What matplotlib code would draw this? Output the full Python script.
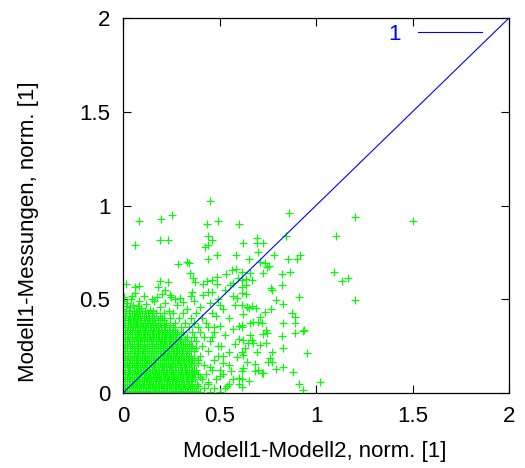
import numpy as np
import matplotlib
matplotlib.use("Agg")
import matplotlib.pyplot as plt

plt.rcParams['font.family'] = ['Liberation Sans', 'DejaVu Sans']

# ---- data ----
# dense core: one row per y value, x positions of the crosses in that row
core_y = [0.005, 0.025, 0.05, 0.075, 0.10, 0.125, 0.15, 0.175, 0.20, 0.225,
          0.25, 0.275, 0.30, 0.325, 0.35, 0.375, 0.40, 0.425]
core_x = [
    [0.0, 0.02, 0.04, 0.06, 0.085, 0.105, 0.13, 0.15, 0.17, 0.195, 0.215, 0.24, 0.26, 0.285, 0.31, 0.33, 0.36, 0.40, 0.45, 0.50],
    [0.01, 0.03, 0.05, 0.075, 0.095, 0.12, 0.14, 0.165, 0.185, 0.205, 0.23, 0.25, 0.275, 0.30, 0.32, 0.345, 0.37, 0.42, 0.47, 0.53],
    [0.0, 0.02, 0.045, 0.065, 0.09, 0.11, 0.135, 0.155, 0.18, 0.20, 0.225, 0.245, 0.27, 0.29, 0.315, 0.34, 0.36, 0.385, 0.44, 0.55, 0.60],
    [0.01, 0.035, 0.055, 0.08, 0.10, 0.125, 0.145, 0.17, 0.19, 0.215, 0.235, 0.26, 0.28, 0.305, 0.33, 0.35, 0.375, 0.41, 0.48, 0.57],
    [0.0, 0.025, 0.045, 0.07, 0.09, 0.115, 0.135, 0.16, 0.18, 0.205, 0.225, 0.25, 0.27, 0.295, 0.32, 0.34, 0.365, 0.39, 0.43, 0.52],
    [0.01, 0.035, 0.06, 0.08, 0.105, 0.125, 0.15, 0.17, 0.195, 0.215, 0.24, 0.26, 0.285, 0.305, 0.33, 0.355, 0.38, 0.46, 0.50],
    [0.0, 0.02, 0.045, 0.065, 0.09, 0.11, 0.135, 0.155, 0.18, 0.20, 0.225, 0.245, 0.27, 0.295, 0.315, 0.34, 0.37, 0.42, 0.55],
    [0.01, 0.035, 0.055, 0.08, 0.10, 0.125, 0.145, 0.17, 0.19, 0.215, 0.235, 0.26, 0.285, 0.31, 0.335, 0.36, 0.39, 0.47],
    [0.0, 0.025, 0.045, 0.07, 0.09, 0.115, 0.135, 0.16, 0.18, 0.205, 0.23, 0.25, 0.275, 0.30, 0.325, 0.35, 0.40, 0.52],
    [0.01, 0.035, 0.06, 0.08, 0.105, 0.125, 0.15, 0.17, 0.195, 0.22, 0.24, 0.265, 0.29, 0.31, 0.34, 0.37, 0.44],
    [0.0, 0.02, 0.045, 0.07, 0.09, 0.11, 0.135, 0.16, 0.18, 0.205, 0.23, 0.255, 0.28, 0.30, 0.33, 0.36, 0.41, 0.49],
    [0.01, 0.03, 0.055, 0.08, 0.10, 0.125, 0.145, 0.17, 0.195, 0.22, 0.245, 0.27, 0.295, 0.32, 0.35, 0.38, 0.45],
    [0.0, 0.025, 0.045, 0.07, 0.095, 0.115, 0.14, 0.16, 0.185, 0.21, 0.24, 0.26, 0.29, 0.33, 0.37, 0.42],
    [0.01, 0.035, 0.06, 0.085, 0.11, 0.13, 0.155, 0.18, 0.20, 0.23, 0.255, 0.28, 0.31, 0.36, 0.40, 0.47],
    [0.0, 0.025, 0.05, 0.075, 0.10, 0.12, 0.145, 0.17, 0.195, 0.22, 0.26, 0.30, 0.34, 0.39, 0.44],
    [0.01, 0.04, 0.065, 0.09, 0.115, 0.14, 0.165, 0.19, 0.225, 0.27, 0.32, 0.37, 0.43],
    [0.0, 0.03, 0.055, 0.08, 0.11, 0.135, 0.16, 0.20, 0.245, 0.29, 0.35, 0.41],
    [0.015, 0.045, 0.075, 0.10, 0.13, 0.17, 0.215, 0.26, 0.31, 0.38, 0.46],
]

# in-between rows of the dense core
core2_y = [0.0125, 0.0375, 0.0625, 0.0875, 0.1125, 0.1375, 0.1625, 0.1875, 0.2125, 0.2375,
           0.2625, 0.2875, 0.3125, 0.3375, 0.3625, 0.3875, 0.4125, 0.4375]
core2_x = [
    [0.01, 0.03, 0.05, 0.07, 0.095, 0.115, 0.14, 0.16, 0.18, 0.205, 0.225, 0.25, 0.27, 0.295, 0.32, 0.345, 0.38],
    [0.0, 0.02, 0.04, 0.06, 0.085, 0.105, 0.13, 0.15, 0.17, 0.195, 0.215, 0.24, 0.26, 0.285, 0.31, 0.335, 0.36, 0.39],
    [0.01, 0.03, 0.055, 0.075, 0.10, 0.12, 0.14, 0.165, 0.185, 0.21, 0.23, 0.255, 0.275, 0.30, 0.325, 0.35],
    [0.0, 0.02, 0.045, 0.065, 0.085, 0.11, 0.13, 0.155, 0.175, 0.195, 0.22, 0.24, 0.265, 0.285, 0.31, 0.335, 0.36, 0.40],
    [0.01, 0.03, 0.055, 0.075, 0.095, 0.12, 0.14, 0.165, 0.185, 0.21, 0.23, 0.255, 0.275, 0.30, 0.325, 0.35, 0.37],
    [0.0, 0.025, 0.045, 0.07, 0.09, 0.115, 0.135, 0.16, 0.18, 0.205, 0.225, 0.25, 0.27, 0.295, 0.32, 0.34],
    [0.01, 0.03, 0.055, 0.075, 0.10, 0.12, 0.145, 0.165, 0.19, 0.21, 0.235, 0.255, 0.28, 0.30, 0.325, 0.35, 0.39],
    [0.0, 0.02, 0.045, 0.065, 0.09, 0.11, 0.135, 0.155, 0.18, 0.20, 0.225, 0.245, 0.27, 0.29, 0.315, 0.34, 0.37],
    [0.01, 0.035, 0.055, 0.08, 0.10, 0.125, 0.145, 0.17, 0.19, 0.215, 0.235, 0.26, 0.28, 0.305, 0.33],
    [0.0, 0.02, 0.045, 0.07, 0.09, 0.115, 0.135, 0.16, 0.18, 0.205, 0.23, 0.25, 0.275, 0.30, 0.32, 0.35, 0.38],
    [0.01, 0.035, 0.055, 0.08, 0.10, 0.125, 0.15, 0.17, 0.19, 0.215, 0.24, 0.26, 0.285, 0.31, 0.34],
    [0.0, 0.02, 0.045, 0.065, 0.09, 0.11, 0.135, 0.155, 0.18, 0.20, 0.225, 0.25, 0.275, 0.30, 0.32],
    [0.01, 0.035, 0.06, 0.08, 0.105, 0.125, 0.15, 0.17, 0.195, 0.22, 0.245, 0.27, 0.30],
    [0.0, 0.02, 0.045, 0.07, 0.09, 0.115, 0.14, 0.16, 0.185, 0.21, 0.24, 0.27],
    [0.01, 0.035, 0.06, 0.08, 0.105, 0.13, 0.155, 0.18, 0.21, 0.245],
    [0.0, 0.025, 0.05, 0.07, 0.095, 0.125, 0.15, 0.18, 0.21],
    [0.01, 0.035, 0.06, 0.09, 0.12, 0.15, 0.19],
    [0.0, 0.03, 0.055, 0.085, 0.115, 0.155],
]

# scattered crosses outside the dense core
scatter_x = [0.451, 0.084, 0.195, 0.252, 0.862, 1.204, 0.434, 0.492, 0.603, 0.062,
             0.192, 0.235, 0.442, 0.460, 0.425, 0.439, 0.623, 0.693, 0.693, 0.727,
             1.104, 0.701, 0.442, 0.485, 0.584, 0.654, 0.784, 0.853, 0.903, 0.917,
             0.330, 0.283, 0.342, 0.736, 0.745, 1.093, 1.133, 1.164, 1.204, 0.865,
             0.822, 0.724, 0.667, 0.585, 0.534, 0.485, 0.460, 0.361, 0.347, 0.192,
             0.235, 0.765, 0.824, 0.913, 0.793, 0.831, 0.874, 0.891, 0.667, 0.831,
             0.891, 0.938, 0.822, 0.831, 0.955, 0.762, 0.770, 0.793, 0.831, 0.879,
             0.913, 1.021, 0.934, 0.719, 1.503, 0.845, 0.615, 0.637, 0.770, 0.654,
             0.641, 0.689, 0.736, 0.765, 0.710, 0.701, 0.719, 0.658, 0.672, 0.615,
             0.615, 0.891, 0.934, 0.741, 0.748, 0.727, 0.658, 0.667, 0.675, 0.649,
             0.710, 0.741, 0.623, 0.774, 0.615, 0.623, 0.693, 0.753, 0.684, 0.641,
             0.684, 0.701, 0.724, 0.623, 0.615, 0.615, 0.654, 0.615, 0.710, 0.756,
             0.615, 0.658, 0.637, 0.615, 0.637, 0.016, 0.062, 0.083, 0.218, 0.180,
             0.045, 0.175, 0.244, 0.356, 0.416, 0.434, 0.485, 0.460, 0.416, 0.563,
             0.554, 0.597, 0.572, 0.615, 0.295, 0.503, 0.589, 0.615, 0.373, 0.442,
             0.52, 0.55, 0.58, 0.50, 0.53, 0.57, 0.60, 0.51, 0.55, 0.59,
             0.52, 0.56, 0.60, 0.50, 0.54, 0.58, 0.48, 0.62, 0.46, 0.49,
             0.45, 0.44, 0.57, 0.53, 0.49, 0.45, 0.60, 0.63, 0.47,
             0.0, 0.035, 0.065, 0.095, 0.14, 0.19, 0.24, 0.28, 0.33, 0.40,
             0.02, 0.05, 0.085, 0.12, 0.16, 0.22, 0.27, 0.31, 0.37,
             0.005, 0.04, 0.11, 0.15, 0.20, 0.25, 0.35,
             0.015, 0.08, 0.0, 0.06]
scatter_y = [1.026, 0.916, 0.926, 0.949, 0.958, 0.937, 0.900, 0.916, 0.900, 0.788,
             0.816, 0.816, 0.837, 0.816, 0.780, 0.788, 0.798, 0.825, 0.798, 0.798,
             0.837, 0.754, 0.715, 0.736, 0.736, 0.715, 0.736, 0.715, 0.715, 0.736,
             0.700, 0.686, 0.692, 0.692, 0.670, 0.647, 0.599, 0.615, 0.496, 0.647,
             0.635, 0.638, 0.603, 0.660, 0.633, 0.620, 0.603, 0.612, 0.642, 0.597,
             0.594, 0.558, 0.576, 0.514, 0.496, 0.475, 0.425, 0.407, 0.464, 0.372,
             0.318, 0.336, 0.304, 0.238, 0.215, 0.185, 0.167, 0.126, 0.137, 0.114,
             0.048, 0.057, 0.016, 0.108, 0.916, 0.837, 0.532, 0.528, 0.549, 0.452,
             0.460, 0.452, 0.434, 0.446, 0.407, 0.380, 0.372, 0.372, 0.380, 0.363,
             0.350, 0.375, 0.332, 0.336, 0.318, 0.315, 0.309, 0.283, 0.268, 0.265,
             0.256, 0.268, 0.283, 0.219, 0.220, 0.203, 0.217, 0.167, 0.155, 0.167,
             0.116, 0.123, 0.105, 0.135, 0.119, 0.073, 0.066, 0.034, 0.700, 0.677,
             0.647, 0.638, 0.606, 0.567, 0.576, 0.580, 0.567, 0.572, 0.549, 0.567,
             0.517, 0.514, 0.523, 0.540, 0.580, 0.597, 0.580, 0.540, 0.523, 0.656,
             0.576, 0.612, 0.585, 0.603, 0.505, 0.469, 0.505, 0.469, 0.594, 0.540,
             0.45, 0.40, 0.47, 0.36, 0.31, 0.34, 0.29, 0.25, 0.22, 0.19,
             0.16, 0.12, 0.08, 0.09, 0.04, 0.26, 0.41, 0.42, 0.30, 0.20,
             0.14, 0.06, 0.52, 0.55, 0.50, 0.48, 0.36, 0.24, 0.35,
             0.45, 0.46, 0.44, 0.455, 0.445, 0.46, 0.44, 0.47, 0.45, 0.46,
             0.48, 0.47, 0.49, 0.475, 0.49, 0.48, 0.50, 0.485, 0.49,
             0.51, 0.50, 0.52, 0.50, 0.53, 0.51, 0.52,
             0.465, 0.465, 0.49, 0.535]

line_x = [0.0, 2.0]
line_y = [0.0, 2.0]
line_label = "1"

ticks = [0, 0.5, 1, 1.5, 2]
tick_labels = ["0", "0.5", "1", "1.5", "2"]
xlabel = "Modell1-Modell2, norm. [1]"
ylabel = "Modell1-Messungen, norm. [1]"

# ---- assemble points ----
pts_x = []
pts_y = []
for yv, xs in list(zip(core_y, core_x)) + list(zip(core2_y, core2_x)):
    pts_x.extend(xs)
    pts_y.extend([yv] * len(xs))
pts_x.extend(scatter_x)
pts_y.extend(scatter_y)

# ---- figure ----
W, H = 525, 468
fig = plt.figure(figsize=(W / 100, H / 100), dpi=100)
ax = fig.add_axes([123 / W, 1 - 393 / H, 386 / W, 375 / H])

ax.plot(pts_x, pts_y, linestyle='none', marker='+', markersize=6.4,
        markeredgewidth=0.85, color='#00ff00', zorder=2)
ax.plot(line_x, line_y, color='#0000ff', linewidth=0.8, label=line_label, zorder=3)

ax.set_xlim(0, 2)
ax.set_ylim(0, 2)
ax.set_xticks(ticks)
ax.set_xticklabels(tick_labels)
ax.set_yticks(ticks)
ax.set_yticklabels(tick_labels)
ax.tick_params(direction='in', top=True, right=True, length=6, width=0.8,
               labelsize=16, pad=9, colors='black')
for s in ax.spines.values():
    s.set_linewidth(0.9)
    s.set_color('black')

ax.set_xlabel(xlabel, fontsize=16)
ax.set_ylabel(ylabel, fontsize=16)
ax.xaxis.set_label_coords((315 - 123) / 386, (393 - 441) / 375)
ax.yaxis.set_label_coords((39 - 123) / 386, (393 - 232) / 375)

leg = ax.legend(loc='upper right', bbox_to_anchor=((482 - 123) / 386, (393 - 24) / 375),
                frameon=False, markerfirst=False, handlelength=2.9, handletextpad=0.75,
                borderpad=0, borderaxespad=0, fontsize=16, labelcolor='#0000ff')

fig.savefig("out.png", dpi=100)
